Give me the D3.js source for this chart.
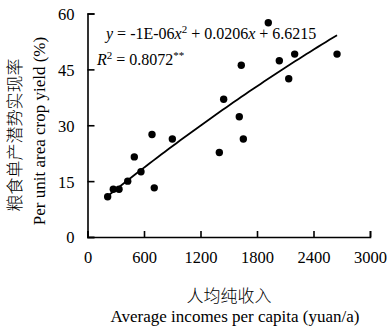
<!DOCTYPE html>
<html>
<head>
<meta charset="utf-8">
<script src="https://cdn.jsdelivr.net/npm/d3@7/dist/d3.min.js"></script>
<style>
  html, body { margin: 0; padding: 0; background: #fff; }
  svg text { font-family: "Liberation Serif", "Times New Roman", serif; fill: #000; }
  svg text.cjk { font-family: "Noto Sans CJK SC", sans-serif; font-weight: 300; }
</style>
</head>
<body>
<svg id="chart" width="387" height="329"></svg>
<script>
// Income per capita (yuan/a) and realized potential yield (%) for each county
const incomes = [214, 274, 335, 427, 497, 568, 685, 709, 901, 1400, 1446, 1612, 1633, 1655, 1920, 2037, 2137, 2200, 2650];
const yieldRates = [10.8, 12.8, 12.8, 15.0, 21.5, 17.5, 27.5, 13.2, 26.3, 22.7, 37.0, 32.3, 46.1, 26.3, 57.5, 47.3, 42.5, 49.1, 49.1];
const xTicks = [0, 600, 1200, 1800, 2400, 3000];
const yTicks = [0, 15, 30, 45, 60];
// Quadratic trend: y = a x^2 + b x + c
const trendCoef = [-1e-6, 0.0206, 6.6215];
const rSquared = "0.8072";

const svg = d3.select("#chart");
const x = d3.scaleLinear().domain([0, 3000]).range([87.5, 370]);
const y = d3.scaleLinear().domain([0, 60]).range([237, 13.5]);

// Axes with inward ticks
const xAxis = d3.axisBottom(x).tickValues(xTicks).tickFormat(d3.format("d"))
  .tickSizeInner(-6).tickSizeOuter(-6).tickPadding(14);
const yAxis = d3.axisLeft(y).tickValues(yTicks).tickFormat(d3.format("d"))
  .tickSizeInner(-7).tickSizeOuter(-7).tickPadding(13);

const gx = svg.append("g").attr("transform", `translate(0,${y(0)})`).call(xAxis);
const gy = svg.append("g").attr("transform", `translate(${x(0)},0)`).call(yAxis);
[gx, gy].forEach(g => {
  g.attr("font-family", "Liberation Serif").attr("font-size", 16);
  g.selectAll("path, line").attr("stroke", "#000").attr("stroke-width", 1.6);
  g.selectAll("text").attr("font-family", "Liberation Serif").attr("font-size", 16.5).attr("fill", "#000");
});
gy.selectAll(".tick text").attr("dy", "0.36em");

// Points
svg.append("g").selectAll("circle")
  .data(incomes.map((v, i) => [v, yieldRates[i]]))
  .join("circle")
  .attr("cx", d => x(d[0]))
  .attr("cy", d => y(d[1]))
  .attr("r", 3.7)
  .attr("fill", "#000");

// Trend curve over the income range
const xMin = d3.min(incomes), xMax = d3.max(incomes);
const curve = d3.range(xMin, xMax + 1, (xMax - xMin) / 60).map(v => [v, trendCoef[0] * v * v + trendCoef[1] * v + trendCoef[2]]);
svg.append("path")
  .datum(curve)
  .attr("fill", "none")
  .attr("stroke", "#000")
  .attr("stroke-width", 1.8)
  .attr("d", d3.line().x(d => x(d[0])).y(d => y(d[1])));

// Equation and R²
const eq = svg.append("text").attr("x", 106).attr("y", 39).style("font-size", "16px");
eq.append("tspan").attr("font-style", "italic").text("y");
eq.append("tspan").text(" = -1E-06");
eq.append("tspan").attr("font-style", "italic").text("x");
eq.append("tspan").attr("dy", -6).style("font-size", "11px").text("2");
eq.append("tspan").attr("dy", 6).text(" + 0.0206");
eq.append("tspan").attr("font-style", "italic").text("x");
eq.append("tspan").text(" + 6.6215");

const r2 = svg.append("text").attr("x", 97).attr("y", 65).style("font-size", "16px");
r2.append("tspan").attr("font-style", "italic").text("R");
r2.append("tspan").attr("dy", -6).style("font-size", "11px").text("2");
r2.append("tspan").attr("dy", 6).text(" = " + rSquared);
r2.append("tspan").attr("dy", -6).style("font-size", "11px").text("**");

// Axis titles
svg.append("text").attr("class", "cjk").attr("x", 229).attr("y", 302)
  .attr("text-anchor", "middle").style("font-size", "17px").text("人均纯收入");
svg.append("text").attr("x", 235).attr("y", 322)
  .attr("text-anchor", "middle").style("font-size", "17px").text("Average incomes per capita (yuan/a)");

svg.append("text").attr("class", "cjk")
  .attr("transform", "translate(21,135) rotate(-90)")
  .attr("text-anchor", "middle").style("font-size", "17px").text("粮食单产潜势实现率");
svg.append("text")
  .attr("transform", "translate(45,131) rotate(-90)")
  .attr("text-anchor", "middle").style("font-size", "17px").text("Per unit area crop yield (%)");
</script>
</body>
</html>
